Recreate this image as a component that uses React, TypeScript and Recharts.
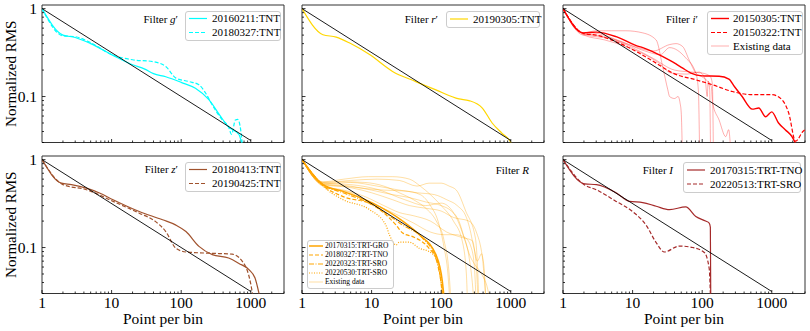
import { LineChart, Line, XAxis, YAxis, ReferenceArea } from 'recharts';

/* eslint-disable @typescript-eslint/no-explicit-any */

type Pt = [number, number];

const FONT = "'Liberation Serif', 'DejaVu Serif', serif";

// axis ticks (log scales); the domain ends carry no mark
const xMajor = [1, 10, 100, 1000];
const xMinor = [2, 3, 4, 5, 6, 7, 8, 9, 20, 30, 40, 50, 60, 70, 80, 90, 200, 300, 400, 500, 600, 700, 800, 900, 2000, 3000];
const yMajor = [0.1, 1];
const yMinor = [0.03, 0.04, 0.05, 0.06, 0.07, 0.08, 0.09, 0.2, 0.3, 0.4, 0.5, 0.6, 0.7, 0.8, 0.9];
const yTop = 1.1;
const xDomain: [number, number] = [1, 3000];
const yDomain: [number, number] = [0.03, yTop];

// reference 1/sqrt(N) line
const sqrtLaw: Pt[] = [[1, 1], [1000, 0.0316]];

// filter g'
const g20160211: Pt[] = [[1, 1], [2, 0.5], [3, 0.47], [5, 0.4], [10, 0.3], [20, 0.23], [30, 0.205], [40, 0.182], [60, 0.168], [100, 0.145], [160, 0.124], [250, 0.092], [370, 0.059], [480, 0.045], [675, 0.037], [760, 0.027]];
const g20180327: Pt[] = [[1, 1], [2, 0.49], [3, 0.48], [5, 0.41], [10, 0.3], [20, 0.262], [39, 0.25], [60, 0.22], [84, 0.162], [130, 0.148], [180, 0.136], [225, 0.109], [280, 0.08], [390, 0.054], [480, 0.045], [530, 0.037], [600, 0.054], [650, 0.055], [715, 0.042], [760, 0.027]];

// filter r'
const r20190305: Pt[] = [[1, 1], [2, 0.505], [3.1, 0.475], [4.85, 0.406], [9.35, 0.3], [20, 0.193], [43, 0.148], [84, 0.119], [180, 0.094], [250, 0.09], [390, 0.074], [540, 0.05], [750, 0.038], [1000, 0.03], [1050, 0.027]];

// filter i'
const i20150305: Pt[] = [[1, 1], [1.95, 0.53], [3, 0.54], [5.8, 0.48], [11.3, 0.38], [14, 0.36], [21.8, 0.31], [33.8, 0.26], [42, 0.235], [52.5, 0.21], [69, 0.185], [100, 0.172], [175, 0.17], [242, 0.158], [290, 0.13], [375, 0.1], [525, 0.072], [650, 0.074], [815, 0.059], [1000, 0.067], [1250, 0.05], [1560, 0.042], [1950, 0.035], [2300, 0.027]];
const i20150322: Pt[] = [[1, 1], [2, 0.52], [3, 0.5], [5.8, 0.42], [12.6, 0.31], [21.8, 0.24], [37.6, 0.185], [81, 0.155], [141, 0.136], [272, 0.114], [525, 0.105], [1000, 0.105], [1400, 0.092], [1750, 0.065], [2200, 0.031], [2800, 0.04], [3000, 0.042]];
const iExisting1: Pt[] = [[1, 1], [2, 0.53], [3, 0.56], [5, 0.56], [8, 0.56], [14, 0.53], [21.8, 0.44], [27, 0.22], [32, 0.12], [34, 0.1], [40, 0.095], [45, 0.1], [48, 0.085], [50, 0.065], [52, 0.02]];
const iExisting2: Pt[] = [[1, 1], [2, 0.5], [3, 0.52], [6, 0.44], [12, 0.36], [20, 0.33], [34, 0.39], [42, 0.4], [52.5, 0.37], [65, 0.26], [81, 0.185], [105, 0.163], [135, 0.13], [141, 0.085], [175, 0.054], [218, 0.035], [240, 0.042], [260, 0.02]];
const iExisting3: Pt[] = [[1, 1], [2, 0.52], [4, 0.48], [8, 0.4], [15, 0.33], [25, 0.3], [34, 0.36], [58, 0.275], [81, 0.185], [88, 0.12], [92, 0.02]];
const iExisting4: Pt[] = [[1, 1], [2, 0.5], [4, 0.44], [8.1, 0.37], [15, 0.3], [24, 0.24], [36, 0.185], [60, 0.18], [90, 0.19], [110, 0.16], [118, 0.1], [122, 0.15], [128, 0.12], [132, 0.02]];
const iExisting5: Pt[] = [[1, 1], [2, 0.51], [5, 0.45], [10, 0.36], [20, 0.27], [40, 0.2], [70, 0.19], [100, 0.185], [130, 0.17], [140, 0.14], [145, 0.02]];

// filter z'
const z20180413: Pt[] = [[1, 1], [1.9, 0.54], [2.65, 0.52], [4.35, 0.475], [6.7, 0.418], [10.5, 0.35], [25, 0.257], [54, 0.207], [84, 0.18], [117, 0.152], [180, 0.103], [280, 0.083], [480, 0.076], [675, 0.066], [940, 0.056], [1150, 0.045], [1300, 0.031], [1350, 0.027]];
const z20190425: Pt[] = [[1, 1], [2, 0.52], [4.35, 0.455], [10.5, 0.335], [25, 0.246], [43, 0.197], [60, 0.152], [84, 0.098], [117, 0.089], [280, 0.086], [540, 0.084], [840, 0.061], [1050, 0.031], [1080, 0.027]];

// filter R
const R20170315: Pt[] = [[1, 1], [2, 0.52], [3.9, 0.435], [10.4, 0.32], [28, 0.2], [48.5, 0.14], [84, 0.083], [104, 0.041], [110, 0.027]];
const R20180327: Pt[] = [[1, 1], [2, 0.51], [3.9, 0.38], [10, 0.31], [22.5, 0.18], [28, 0.146], [39, 0.133], [67, 0.098], [89, 0.069], [105, 0.027]];
const R20220323: Pt[] = [[1, 1], [2, 0.52], [3.9, 0.42], [10, 0.31], [28, 0.18], [54, 0.128], [84, 0.075], [100, 0.04], [108, 0.027]];
const R20220530: Pt[] = [[1, 1], [2, 0.5], [3.9, 0.35], [9.35, 0.27], [16, 0.18], [18, 0.14], [22.5, 0.107], [25, 0.115], [35, 0.115], [48.5, 0.098], [67, 0.09], [84, 0.075], [100, 0.04], [105, 0.027]];
const RExisting1: Pt[] = [[1, 1], [2, 0.56], [4, 0.6], [9, 0.64], [20, 0.64], [35, 0.6], [50, 0.5], [70, 0.4], [100, 0.3], [150, 0.2], [200, 0.12], [230, 0.05], [240, 0.02]];
const RExisting2: Pt[] = [[1, 1], [2, 0.55], [5, 0.58], [12, 0.6], [25, 0.58], [45, 0.5], [67, 0.54], [100, 0.54], [130, 0.5], [165, 0.45], [225, 0.26], [310, 0.128], [340, 0.04], [350, 0.02]];
const RExisting3: Pt[] = [[1, 1], [2, 0.53], [5, 0.55], [12, 0.5], [25, 0.45], [45, 0.42], [80, 0.4], [120, 0.35], [170, 0.3], [230, 0.22], [280, 0.12], [320, 0.06], [340, 0.02]];
const RExisting4: Pt[] = [[1, 1], [2, 0.52], [5, 0.48], [10, 0.42], [20, 0.35], [35, 0.3], [60, 0.28], [100, 0.26], [150, 0.22], [250, 0.2], [320, 0.15], [380, 0.09], [420, 0.05], [440, 0.02]];
const RExisting5: Pt[] = [[1, 1], [2, 0.5], [4, 0.45], [8, 0.38], [15, 0.3], [25, 0.25], [40, 0.23], [70, 0.2], [120, 0.15], [200, 0.13], [280, 0.12], [330, 0.07], [380, 0.085], [420, 0.04], [450, 0.02]];
const RExisting6: Pt[] = [[1, 1], [2, 0.55], [4, 0.56], [8, 0.55], [15, 0.5], [25, 0.42], [40, 0.35], [60, 0.28], [85, 0.2], [110, 0.12], [130, 0.05], [140, 0.02]];
const RExisting7: Pt[] = [[1, 1], [2, 0.53], [5, 0.5], [10, 0.45], [20, 0.4], [35, 0.37], [60, 0.33], [100, 0.3], [140, 0.26], [180, 0.2], [220, 0.12], [260, 0.08], [300, 0.065], [380, 0.05], [480, 0.03], [500, 0.02]];
const RExisting8: Pt[] = [[1, 1], [2, 0.5], [5, 0.42], [10, 0.32], [20, 0.25], [40, 0.19], [70, 0.15], [110, 0.14], [160, 0.14], [220, 0.13], [270, 0.1], [300, 0.06], [320, 0.02]];
const RExisting9: Pt[] = [[1, 1], [2, 0.52], [4, 0.5], [8, 0.47], [15, 0.45], [30, 0.44], [50, 0.4], [70, 0.3], [90, 0.2], [110, 0.1], [125, 0.05], [135, 0.02]];
const RExisting10: Pt[] = [[1, 1], [2, 0.54], [5, 0.52], [12, 0.46], [30, 0.35], [60, 0.3], [100, 0.32], [150, 0.25], [200, 0.15], [250, 0.08], [280, 0.04], [300, 0.02]];

// filter I
const I20170315: Pt[] = [[1, 1], [2.06, 0.53], [3.03, 0.52], [5.8, 0.42], [9, 0.335], [14, 0.325], [21.8, 0.295], [34, 0.27], [58, 0.29], [81, 0.225], [112, 0.2], [126, 0.19], [131, 0.17], [133, 0.02]];
const I20220513: Pt[] = [[1, 1], [2, 0.52], [3, 0.455], [5.8, 0.335], [10.1, 0.255], [15.6, 0.18], [21.8, 0.114], [28.6, 0.089], [47, 0.104], [73, 0.1], [107, 0.088], [126, 0.058], [133, 0.02]];

const CYAN = '#00ffff';
const GOLD = '#ffd700';
const RED = '#ff0000';
const SIENNA = '#a0522d';
const ORANGE = '#ffa500';
const BROWN = '#a52a2a';

interface Series { pts: Pt[]; color: string; w: number; dash?: string; op?: number }

const PW = 242;
const PH = 137.5;
const ML = 39;
const MR = 6;
const MT = 5;
const MB = 37;

const toObj = (a: Pt[]) => a.map(([x, y]) => ({ x, y }));

function XTick(props: any, labels: boolean) {
  const { x, y, payload } = props;
  const v = payload.value;
  if (v === xDomain[0] && !labels) return <g />;
  const major = xMajor.includes(v);
  return (
    <g>
      <line x1={x} x2={x} y1={y} y2={y - (major ? 3.5 : 2)} stroke="#000" strokeWidth={0.8} />
      {labels && major && (
        <text x={x} y={y + 14} textAnchor="middle" fontFamily={FONT} fontSize={15.5} fill="#000">{v}</text>
      )}
    </g>
  );
}

function YTick(props: any, labels: boolean) {
  const { x, y, payload } = props;
  const v = payload.value;
  if (v === yTop) return <g />;
  const major = yMajor.includes(v);
  return (
    <g>
      <line x1={x} x2={x + (major ? 3.5 : 2)} y1={y} y2={y} stroke="#000" strokeWidth={0.8} />
      {labels && major && (
        <text x={x - 5} y={y + 5} textAnchor="end" fontFamily={FONT} fontSize={15.5} fill="#000">{v}</text>
      )}
    </g>
  );
}

function Panel({ left, top, xLabels, yLabels, series }: { left: number; top: number; xLabels: boolean; yLabels: boolean; series: Series[] }) {
  return (
    <div style={{ position: 'absolute', left: left - ML - 1, top: top - MT }}>
      <LineChart width={PW + ML + 1 + MR} height={PH + MT + MB + 1} margin={{ top: MT, right: MR, bottom: MB, left: ML }}>
        <XAxis
          type="number"
          dataKey="x"
          scale="log"
          domain={xDomain}
          allowDataOverflow
          ticks={[...xMajor, ...xMinor]}
          interval={0}
          height={1}
          tickSize={0}
          tickMargin={0}
          axisLine={false}
          tickLine={false}
          tick={(p: any) => XTick(p, xLabels)}
          label={xLabels ? {
            content: ({ viewBox }: any) => (
              <text x={viewBox.x + viewBox.width / 2} y={viewBox.y + 30} textAnchor="middle" fontFamily={FONT} fontSize={15.5} fill="#000">Point per bin</text>
            ),
          } : undefined}
        />
        <YAxis
          type="number"
          dataKey="y"
          scale="log"
          domain={yDomain}
          allowDataOverflow
          ticks={[...yMinor, ...yMajor, yTop]}
          interval={0}
          width={1}
          tickSize={0}
          tickMargin={0}
          axisLine={false}
          tickLine={false}
          tick={(p: any) => YTick(p, yLabels)}
          label={yLabels ? {
            content: ({ viewBox }: any) => {
              const cx = viewBox.x + viewBox.width - 31.5;
              const cy = viewBox.y + viewBox.height / 2;
              return (
                <text x={cx} y={cy} transform={`rotate(-90 ${cx} ${cy})`} textAnchor="middle" dominantBaseline="central" fontFamily={FONT} fontSize={15} fill="#000">Normalized RMS</text>
              );
            },
          } : undefined}
        />
        <ReferenceArea x1={xDomain[0]} x2={xDomain[1]} y1={yDomain[0]} y2={yDomain[1]} fill="none" stroke="#333" strokeWidth={1} />
        {series.map((s, i) => (
          <Line
            key={i}
            data={toObj(s.pts)}
            dataKey="y"
            type="monotone"
            stroke={s.color}
            strokeWidth={s.w}
            strokeDasharray={s.dash}
            strokeOpacity={s.op ?? 1}
            dot={false}
            activeDot={false}
            isAnimationActive={false}
          />
        ))}
        <Line data={toObj(sqrtLaw)} dataKey="y" type="linear" stroke="#000" strokeWidth={0.9} dot={false} activeDot={false} isAnimationActive={false} />
      </LineChart>
    </div>
  );
}

const existingRed = (pts: Pt[]): Series => ({ pts, color: RED, w: 0.8, op: 0.4 });
const existingOrange = (pts: Pt[]): Series => ({ pts, color: ORANGE, w: 0.8, op: 0.45 });

const DASH = '4 2';
const DASHDOT = '5 1.5 1 1.5';
const DOT = '1 1.5';

function Sample({ x, y, w, color, sw, dash, op }: { x: number; y: number; w: number; color: string; sw: number; dash?: string; op?: number }) {
  return <line x1={x} x2={x + w} y1={y} y2={y} stroke={color} strokeWidth={sw} strokeDasharray={dash} strokeOpacity={op ?? 1} />;
}

function Txt({ x, y, size, children, anchor }: { x: number; y: number; size: number; children: any; anchor?: string }) {
  return (
    <text x={x} y={y + size * 0.33} fontFamily={FONT} fontSize={size} textAnchor={anchor as any} fill="#000">{children}</text>
  );
}

function Box({ x, y, w, h }: { x: number; y: number; w: number; h: number }) {
  return <rect x={x + 0.5} y={y + 0.5} width={w} height={h} rx={2.5} fill="#fff" fillOpacity={0.8} stroke="#ccc" strokeWidth={1} />;
}

function Overlay() {
  return (
    <svg width={810} height={331} style={{ position: 'absolute', left: 0, top: 0, pointerEvents: 'none' }}>
      {/* g' */}
      <Txt x={178} y={19} size={11} anchor="end">Filter <tspan fontStyle="italic">g</tspan>′</Txt>
      <Box x={185} y={11} w={95} h={29} />
      <Sample x={189} y={18.5} w={18} color={CYAN} sw={1.2} />
      <Txt x={212} y={18.5} size={11}>20160211:TNT</Txt>
      <Sample x={189} y={32.5} w={18} color={CYAN} sw={1.2} dash={DASH} />
      <Txt x={212} y={32.5} size={11}>20180327:TNT</Txt>

      {/* r' */}
      <Txt x={438} y={19} size={11} anchor="end">Filter <tspan fontStyle="italic">r</tspan>′</Txt>
      <Box x={446} y={11} w={93} h={16} />
      <Sample x={450} y={19} w={18} color={GOLD} sw={1.2} />
      <Txt x={473} y={19} size={11}>20190305:TNT</Txt>

      {/* i' */}
      <Txt x={698} y={19} size={11} anchor="end">Filter <tspan fontStyle="italic">i</tspan>′</Txt>
      <Box x={707} y={11} w={95} h={43} />
      <Sample x={711} y={18.5} w={18} color={RED} sw={1.4} />
      <Txt x={733} y={18.5} size={11}>20150305:TNT</Txt>
      <Sample x={711} y={32.5} w={18} color={RED} sw={1.2} dash={DASH} />
      <Txt x={733} y={32.5} size={11}>20150322:TNT</Txt>
      <Sample x={711} y={46} w={18} color={RED} sw={0.8} op={0.4} />
      <Txt x={733} y={46} size={11}>Existing data</Txt>

      {/* z' */}
      <Txt x={178} y={169} size={11} anchor="end">Filter <tspan fontStyle="italic">z</tspan>′</Txt>
      <Box x={185} y={162} w={95} h={29} />
      <Sample x={189} y={169.5} w={18} color={SIENNA} sw={1.2} />
      <Txt x={212} y={169.5} size={11}>20180413:TNT</Txt>
      <Sample x={189} y={183.5} w={18} color={SIENNA} sw={1.2} dash={DASH} />
      <Txt x={212} y={183.5} size={11}>20190425:TNT</Txt>

      {/* R */}
      <Txt x={529} y={170} size={11} anchor="end">Filter <tspan fontStyle="italic">R</tspan></Txt>
      <Box x={307} y={240} w={86} h={48} />
      <Sample x={309} y={246} w={14} color={ORANGE} sw={1.5} />
      <Txt x={325} y={246} size={7.5}>20170315:TRT-GRO</Txt>
      <Sample x={309} y={255} w={14} color={ORANGE} sw={1.2} dash={DASH} />
      <Txt x={325} y={255} size={7.5}>20180327:TRT-TNO</Txt>
      <Sample x={309} y={264} w={14} color={ORANGE} sw={1.2} dash={DASHDOT} />
      <Txt x={325} y={264} size={7.5}>20220323:TRT-SRO</Txt>
      <Sample x={309} y={273} w={14} color={ORANGE} sw={1.2} dash={DOT} />
      <Txt x={325} y={273} size={7.5}>20220530:TRT-SRO</Txt>
      <Sample x={309} y={282} w={14} color={ORANGE} sw={0.8} op={0.45} />
      <Txt x={325} y={282} size={7.5}>Existing data</Txt>

      {/* I */}
      <Txt x={673} y={170} size={11} anchor="end">Filter <tspan fontStyle="italic">I</tspan></Txt>
      <Box x={683} y={162} w={117} h={30} />
      <Sample x={687} y={170} w={18} color={BROWN} sw={1.2} />
      <Txt x={710} y={170} size={11}>20170315:TRT-TNO</Txt>
      <Sample x={687} y={184} w={18} color={BROWN} sw={1.2} dash={DASH} />
      <Txt x={710} y={184} size={11}>20220513:TRT-SRO</Txt>
    </svg>
  );
}

export default function App() {
  const colLeft = [42, 302, 563];
  const rowTop = [5.4, 156.4];
  return (
    <div style={{ position: 'absolute', left: 0, top: 0, width: 810, height: 331, background: '#fff', overflow: 'hidden' }}>
      <Panel left={colLeft[0]} top={rowTop[0]} xLabels={false} yLabels series={[
        { pts: g20160211, color: CYAN, w: 1.2 },
        { pts: g20180327, color: CYAN, w: 1.2, dash: DASH },
      ]} />
      <Panel left={colLeft[1]} top={rowTop[0]} xLabels={false} yLabels={false} series={[
        { pts: r20190305, color: GOLD, w: 1.2 },
      ]} />
      <Panel left={colLeft[2]} top={rowTop[0]} xLabels={false} yLabels={false} series={[
        existingRed(iExisting1), existingRed(iExisting2), existingRed(iExisting3), existingRed(iExisting4), existingRed(iExisting5),
        { pts: i20150305, color: RED, w: 1.4 },
        { pts: i20150322, color: RED, w: 1.2, dash: DASH },
      ]} />
      <Panel left={colLeft[0]} top={rowTop[1]} xLabels yLabels series={[
        { pts: z20180413, color: SIENNA, w: 1.2 },
        { pts: z20190425, color: SIENNA, w: 1.2, dash: DASH },
      ]} />
      <Panel left={colLeft[1]} top={rowTop[1]} xLabels yLabels={false} series={[
        existingOrange(RExisting1), existingOrange(RExisting2), existingOrange(RExisting3), existingOrange(RExisting4), existingOrange(RExisting5),
        existingOrange(RExisting6), existingOrange(RExisting7), existingOrange(RExisting8), existingOrange(RExisting9), existingOrange(RExisting10),
        { pts: R20170315, color: ORANGE, w: 1.5 },
        { pts: R20180327, color: ORANGE, w: 1.2, dash: DASH },
        { pts: R20220323, color: ORANGE, w: 1.2, dash: DASHDOT },
        { pts: R20220530, color: ORANGE, w: 1.2, dash: DOT },
      ]} />
      <Panel left={colLeft[2]} top={rowTop[1]} xLabels yLabels={false} series={[
        { pts: I20170315, color: BROWN, w: 1.2 },
        { pts: I20220513, color: BROWN, w: 1.2, dash: DASH },
      ]} />
      <Overlay />
    </div>
  );
}
